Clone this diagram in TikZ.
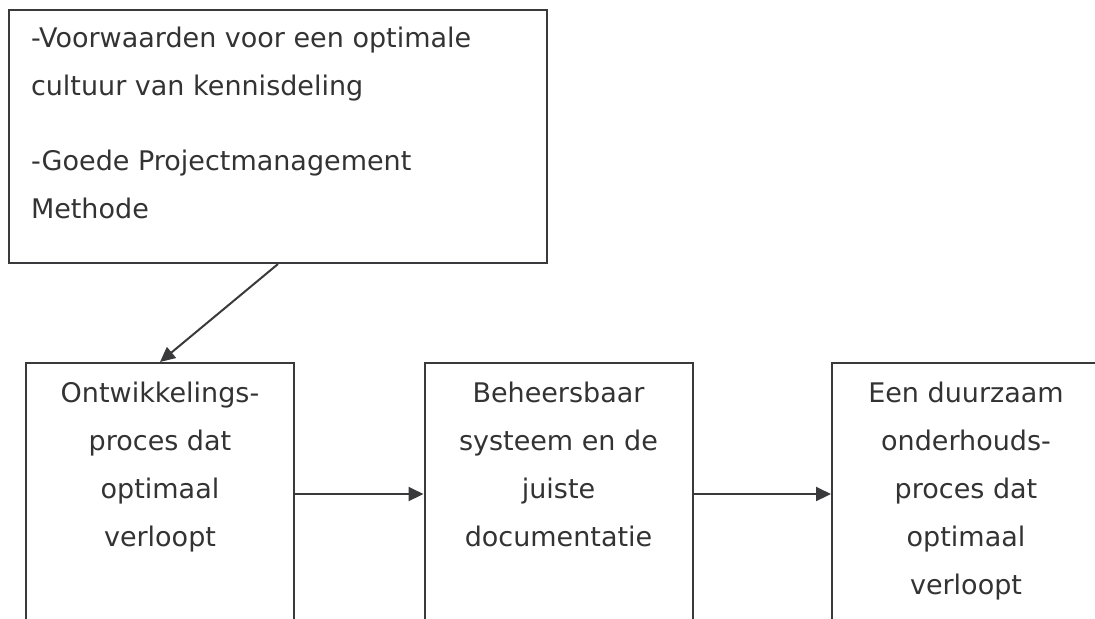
\documentclass[tikz,border=0pt]{standalone}
\usepackage{fontspec}
\setmainfont{DejaVu Sans}
\usetikzlibrary{arrows.meta}
\definecolor{boxline}{HTML}{3A3A3C}
\definecolor{boxtext}{HTML}{333333}
% text block whose baseline is its first line
\newcommand{\toplines}[2]{\vtop{\hsize=#1\relax #2}}

\begin{document}
\begin{tikzpicture}[x=0.5pt,y=-0.5pt,
		font=\fontsize{13.5}{24}\selectfont, text=boxtext,
		goalbox/.style={draw=boxline, line width=1pt, anchor=base west, inner xsep=11pt, inner ysep=0pt,
			minimum width=269pt, text height=18.5pt, text depth=108pt},
		procbox/.style={draw=boxline, line width=1pt, anchor=base, inner sep=0pt,
			minimum width=134pt, text height=19.5pt, text depth=111.5pt},
		flow/.style={draw=boxline, line width=1pt, -{Triangle[length=7.5pt,width=7pt]}}]
	\path[use as bounding box, clip] (0,0) rectangle (1095,618);
	\node[goalbox] (goal) at (8,47) {\toplines{247pt}{\raggedright
		-Voorwaarden voor een optimale\\ cultuur van kennisdeling\\[13.5pt]
		-Goede Projectmanagement\\ Methode}};
	\node[procbox] (dev) at (160,402) {\toplines{130pt}{\centering
		Ontwikkelings-\\ proces dat\\ optimaal\\ verloopt}};
	\node[procbox] (sys) at (558.5,402) {\toplines{130pt}{\centering
		Beheersbaar\\ systeem en de\\ juiste\\ documentatie}};
	\node[procbox] (maint) at (966,402) {\toplines{130pt}{\centering
		Een duurzaam\\ onderhouds-\\ proces dat\\ optimaal\\ verloopt}};
	\draw[flow] (goal.south) -- (dev.north);
	\draw[flow] (dev) -- (sys);
	\draw[flow] (sys) -- (maint);
\end{tikzpicture}
\end{document}
